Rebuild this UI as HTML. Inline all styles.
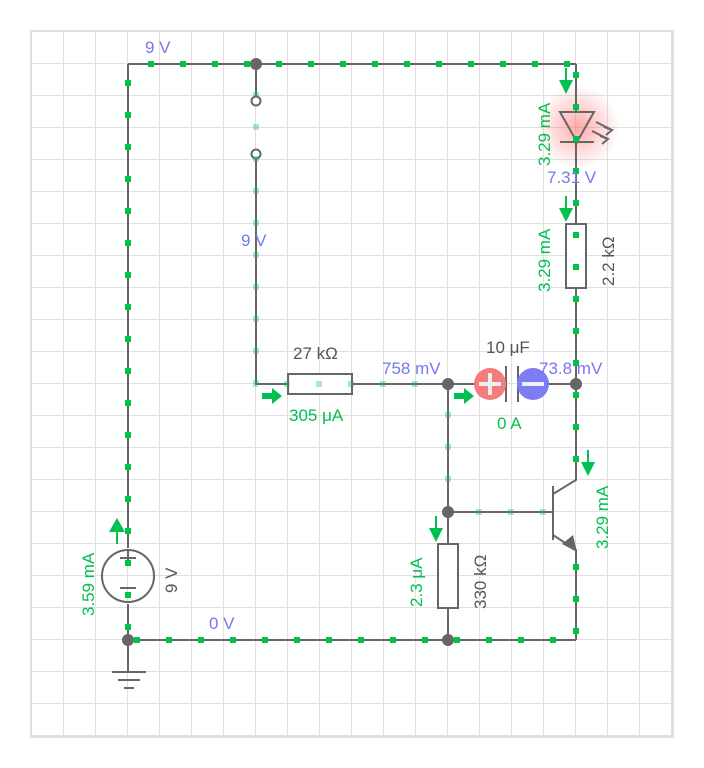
<!DOCTYPE html><html><head><style>body{margin:0;background:#fff}svg{display:block}text{font-family:"Liberation Sans",sans-serif;font-size:17px}</style></head><body>
<svg width="704" height="768" viewBox="0 0 704 768">
<defs><pattern id="g" width="32" height="32" patternUnits="userSpaceOnUse" x="0" y="0"><path d="M32 0V32M0 32H32" stroke="#e0e0e0" stroke-width="2" fill="none"/></pattern>
<radialGradient id="glow"><stop offset="0" stop-color="#f66" stop-opacity=".55"/><stop offset="1" stop-color="#f66" stop-opacity="0"/></radialGradient></defs>
<rect x="31" y="31" width="642" height="706" fill="url(#g)" stroke="#e0e0e0" stroke-width="2"/>
<circle cx="578" cy="127" r="42" fill="url(#glow)"/>
<g stroke="#666" stroke-width="2" fill="none">
<path d="M128 64H576M128 64V548M128 604V672M128 640H576M256 64V97M256 158V384H288M352 384H448H478M545 384H576M448 384V544M448 608V640M576 64V112M576 142V224M576 288V480L553 494M553 535L576 550V640M448 512H553M553 486V540"/>
<rect x="288" y="374" width="64" height="20" fill="#fff"/>
<rect x="566" y="224" width="20" height="64" fill="#fff"/>
<rect x="438" y="544" width="20" height="64" fill="#fff"/>
<circle cx="128" cy="576" r="26"/>
<path d="M120 558H136M128 550V566M120 588H136M112 672H146M118 680H140M124 688H134"/>
<path d="M560 112H594L577 142ZM560 142H594M596 122L612 130M592 131L608 139"/>
<path d="M506 366V402M518 366V402"/>
<circle cx="256" cy="101" r="4.5" fill="#fff"/><circle cx="256" cy="154" r="4.5" fill="#fff"/>
</g>
<path d="M604 127l8 3-6 5M600 136l8 3-6 5" stroke="#666" stroke-width="2" fill="none"/>
<path d="M562 544l15 8-4-17z" fill="#666"/>
<g stroke="#00c050" stroke-width="6" fill="none" stroke-dasharray="6 26">
<path d="M128 64H576" stroke-dashoffset="-20"/>
<path d="M128 640H576" stroke-dashoffset="-6"/>
<path d="M128 640V64" stroke-dashoffset="-10"/>
<path d="M576 64V384V480" stroke-dashoffset="-8"/>
<path d="M576 544V640" stroke-dashoffset="-20"/>
</g>
<g stroke="#00c050" stroke-width="6" fill="none" stroke-dasharray="6 26" opacity=".35">
<path d="M256 64V384H448" stroke-dashoffset="-28"/>
<path d="M448 384V512H553" stroke-dashoffset="-28"/>
</g>
<g fill="#666"><circle cx="256" cy="64" r="6"/><circle cx="448" cy="384" r="6"/><circle cx="576" cy="384" r="6"/><circle cx="448" cy="512" r="6"/><circle cx="448" cy="640" r="6"/><circle cx="128" cy="640" r="6"/></g>
<circle cx="490" cy="384" r="16" fill="#f47c7c"/><path d="M479 384H501M490 373V395" stroke="#eee" stroke-width="4"/>
<circle cx="533" cy="384" r="16" fill="#7c7cf4"/><path d="M522 384H544" stroke="#eee" stroke-width="4"/>
<g fill="#00c050"><path d="M559 80l7 14 7-14zM559 208l7 14 7-14zM262 393h10v-5l10 8-10 8v-5h-10zM454 393h10v-5l10 8-10 8v-5h-10zM581 462l7 14 7-14zM429 528l7 14 7-14zM109 532l8-14 8 14z"/><rect x="565" y="68" width="2" height="14"/><rect x="565" y="196" width="2" height="14"/><rect x="587" y="450" width="2" height="14"/><rect x="435" y="516" width="2" height="14"/><rect x="116" y="530" width="2" height="14"/></g>
<g fill="#00c050">
<text x="289" y="421">305 μA</text><text x="497" y="429">0 A</text>
<text transform="translate(550,166) rotate(-90)">3.29 mA</text>
<text transform="translate(550,292) rotate(-90)">3.29 mA</text>
<text transform="translate(608,549) rotate(-90)">3.29 mA</text>
<text transform="translate(422,607) rotate(-90)">2.3 μA</text>
<text transform="translate(94,616) rotate(-90)">3.59 mA</text>
</g>
<g fill="#7777ee"><text x="145" y="53">9 V</text><text x="241" y="246">9 V</text><text x="382" y="374">758 mV</text><text x="539" y="374">73.8 mV</text><text x="547" y="183">7.31 V</text><text x="209" y="629">0 V</text></g>
<g fill="#555"><text x="293" y="359">27 kΩ</text><text x="486" y="353">10 μF</text>
<text transform="translate(614,286) rotate(-90)">2.2 kΩ</text>
<text transform="translate(486,609) rotate(-90)">330 kΩ</text>
<text transform="translate(177,593) rotate(-90)">9 V</text></g>
</svg></body></html>
